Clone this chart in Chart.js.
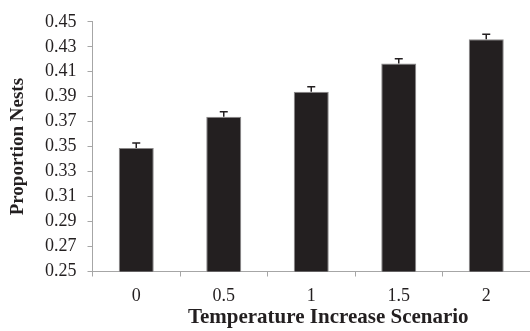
<!DOCTYPE html>
<html>
<head>
<meta charset="utf-8">
<script src="https://cdn.jsdelivr.net/npm/chart.js@4"></script>
<style>
html,body{margin:0;padding:0;background:#fff;}
#wrap{width:530px;height:331px;position:relative;}
</style>
</head>
<body>
<div id="wrap"><canvas id="c" width="530" height="331"></canvas></div>
<script>
const categories = ["0", "0.5", "1", "1.5", "2"];
const proportions = [0.349, 0.374, 0.394, 0.4165, 0.436];
const errors = [0.004, 0.004, 0.004, 0.004, 0.004];
const yTicks = [0.25, 0.27, 0.29, 0.31, 0.33, 0.35, 0.37, 0.39, 0.41, 0.43, 0.45];
const xTitle = 'Temperature Increase Scenario';
const yTitle = 'Proportion Nests';

const axisColor = '#a6a6a6';
const inkColor = '#231f20';
const font = "'Liberation Serif', 'Times New Roman', serif";

const errorBars = {
  id: 'errorBars',
  afterDatasetsDraw(chart) {
    const ctx = chart.ctx;
    const meta = chart.getDatasetMeta(0);
    const y = chart.scales.y;
    ctx.save();
    ctx.strokeStyle = inkColor;
    ctx.lineWidth = 1.5;
    meta.data.forEach((bar, i) => {
      const x = bar.x;
      const y0 = y.getPixelForValue(proportions[i]);
      const y1 = y.getPixelForValue(proportions[i] + errors[i]);
      ctx.beginPath();
      ctx.moveTo(x, y0);
      ctx.lineTo(x, y1);
      ctx.moveTo(x - 4, y1);
      ctx.lineTo(x + 4, y1);
      ctx.stroke();
    });
    ctx.restore();
  }
};

const xTitlePlugin = {
  id: 'xTitlePlugin',
  afterDraw(chart) {
    const ctx = chart.ctx;
    const xs = chart.scales.x;
    ctx.save();
    ctx.fillStyle = inkColor;
    ctx.font = "bold 21px " + font;
    ctx.textAlign = 'center';
    ctx.textBaseline = 'alphabetic';
    ctx.fillText(xTitle, (xs.left + xs.right) / 2 + 17, xs.bottom - 8.5);
    ctx.restore();
  }
};

new Chart(document.getElementById('c'), {
  type: 'bar',
  data: {
    labels: categories,
    datasets: [{
      data: proportions,
      backgroundColor: inkColor,
      borderColor: '#8a8888',
      borderWidth: 1,
      barPercentage: 0.4,
      categoryPercentage: 1.0
    }]
  },
  options: {
    responsive: false,
    animation: false,
    devicePixelRatio: 1,
    layout: { padding: { top: 18, right: 0, left: 0, bottom: 0 } },
    plugins: { legend: { display: false }, tooltip: { enabled: false } },
    scales: {
      x: {
        offset: true,
        grid: { display: true, offset: true, drawOnChartArea: false, color: axisColor, tickLength: 5, lineWidth: 1 },
        border: { display: true, color: axisColor, width: 1 },
        ticks: { color: inkColor, font: { family: font, size: 18 }, padding: 9, maxRotation: 0 },
        title: { display: false },
        afterFit(scale) { scale.height = 59.5; }
      },
      y: {
        min: 0.25,
        max: 0.45,
        afterBuildTicks(scale) { scale.ticks = yTicks.map(v => ({ value: v })); },
        grid: { display: true, drawOnChartArea: false, color: axisColor, tickLength: 5, lineWidth: 1 },
        border: { display: true, color: axisColor, width: 1 },
        ticks: { color: inkColor, font: { family: font, size: 18 }, padding: 11, callback: v => Number(v).toFixed(2) },
        title: { display: true, text: yTitle, color: inkColor, font: { family: font, size: 19, weight: 'bold' }, padding: { top: 7, bottom: 6 } },
        afterFit(scale) { scale.width = 92.5; }
      }
    }
  },
  plugins: [errorBars, xTitlePlugin]
});
</script>
</body>
</html>
